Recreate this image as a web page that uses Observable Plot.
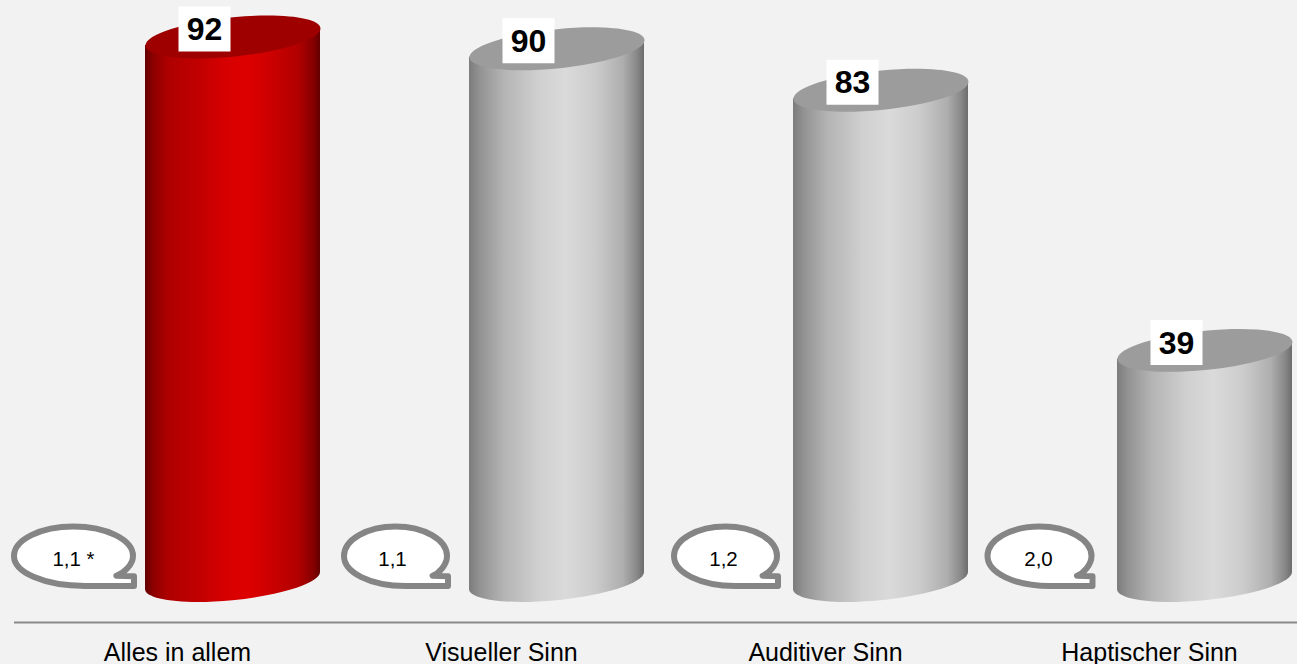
<!DOCTYPE html>
<html><head><meta charset="utf-8">
<script src="https://cdn.jsdelivr.net/npm/d3@7"></script>
<script src="https://cdn.jsdelivr.net/npm/@observablehq/plot@0.6"></script>
<style>html,body{margin:0;background:#f2f2f2;overflow:hidden}</style>
</head><body><div id="chart"></div>
<script>
const categories = ["Alles in allem", "Visueller Sinn", "Auditiver Sinn", "Haptischer Sinn"];
const values = [92, 90, 83, 39];
const grades = ["1,1 *", "1,1", "1,2", "2,0"];
const highlighted = ["Alles in allem"];

const rows = categories.map((c, i) => ({category: c, value: values[i], grade: grades[i]}));

// layout constants
const W = 1297, H = 664;
const a = 87.5, k = 8.5, b = 19.7, K = 0.5523, cylDx = 55.5;
const bubbleLayout = [{dx: -104, rx: 59.5, tx: -104}, {dx: -106, rx: 51.5, tx: -109}, {dx: -100, rx: 51.5, tx: -102}, {dx: -110, rx: 52, tx: -111}];

function sh(u, v) { return [a * u, -k * u + b * v]; }
const pts = (...p) => p.flat();

const capSymbol = {draw(c) {
  c.moveTo(...sh(1, 0));
  c.bezierCurveTo(...pts(sh(1, K), sh(K, 1), sh(0, 1)));
  c.bezierCurveTo(...pts(sh(-K, 1), sh(-1, K), sh(-1, 0)));
  c.bezierCurveTo(...pts(sh(-1, -K), sh(-K, -1), sh(0, -1)));
  c.bezierCurveTo(...pts(sh(K, -1), sh(1, -K), sh(1, 0)));
  c.closePath();
}};
const labelBox = {draw(c) { c.moveTo(-26, -22.5); c.lineTo(26, -22.5); c.lineTo(26, 22.5); c.lineTo(-26, 22.5); c.closePath(); }};
function bubble(rx) {
  const ry = 29.5, q = K;
  return {draw(c) {
    const xe = rx * 0.72, ye = ry * 0.69;
    c.moveTo(rx, 0);
    c.bezierCurveTo(rx, ry * 0.3, xe + rx * 0.12, ye - ry * 0.1, xe, ye - ry * 0.02);
    c.lineTo(rx + 1, ye);
    c.lineTo(rx + 1, ry + 0.5);
    c.lineTo(rx * 0.2, ry + 0.5);
    c.bezierCurveTo(-rx * 0.5, ry + 0.5, -rx, ry * q, -rx, 0);
    c.bezierCurveTo(-rx, -ry * q, -rx * q, -ry, 0, -ry);
    c.bezierCurveTo(rx * q, -ry, rx, -ry * q, rx, 0);
    c.closePath();
  }};
}

function defs() {
  const s = d3.create("svg:defs");
  const mk = (id, stops) => {
    const g = s.append("linearGradient").attr("id", id).attr("x1", 0).attr("x2", 1).attr("y1", 0).attr("y2", 0);
    stops.forEach(([o, col]) => g.append("stop").attr("offset", o).attr("stop-color", col));
  };
  mk("cylRed", [[0, "#640000"], [0.05, "#8e0000"], [0.13, "#ae0000"], [0.3, "#c00000"], [0.45, "#d60000"], [0.58, "#de0000"], [0.72, "#cc0000"], [0.88, "#b00000"], [0.96, "#860000"], [1, "#620000"]]);
  mk("cylGray", [[0, "#7c7c7c"], [0.06, "#929292"], [0.2, "#b4b4b4"], [0.4, "#d0d0d0"], [0.55, "#dadada"], [0.72, "#cccccc"], [0.88, "#aeaeae"], [0.96, "#888888"], [1, "#6c6c6c"]]);
  return s.node();
}

function cylinderBody(index, scales, vals, dims, ctx, next) {
  const g = next(index, scales, vals, dims, ctx);
  d3.select(g).selectAll("rect").each(function () {
    const r = d3.select(this);
    const x = +r.attr("x"), y = +r.attr("y"), w = +r.attr("width"), h = +r.attr("height");
    const cx = x + w / 2, cy = y + h;
    const P = (u, v) => [cx + a * u, cy - k * u + b * v];
    const d = d3.path();
    d.moveTo(x, y + k);
    d.lineTo(...P(-1, 0));
    d.bezierCurveTo(...pts(P(-1, K), P(-K, 1), P(0, 1)));
    d.bezierCurveTo(...pts(P(K, 1), P(1, K), P(1, 0)));
    d.lineTo(x + w, y - k);
    d.closePath();
    const p = d3.create("svg:path").attr("d", d.toString()).attr("fill", r.attr("fill"));
    this.replaceWith(p.node());
  });
  return g;
}

const isHi = d => highlighted.includes(d.category);

const chart = Plot.plot({
  width: W, height: H,
  marginTop: 0, marginLeft: 0, marginRight: 0, marginBottom: 30,
  style: {background: "#f2f2f2", fontFamily: "'Liberation Sans', Arial, sans-serif", overflow: "visible"},
  x: {domain: categories, type: "band", range: [15, 1311], padding: 0, label: null},
  y: {domain: [0, 92], range: [580.5, 36.5], axis: null, label: null},
  color: {type: "identity"},
  marks: [
    defs,
    Plot.ruleY([0], {dy: 41.5, stroke: "#8a8a8a", strokeWidth: 2, insetLeft: 14}),
    Plot.axisX({tickSize: 0, tickPadding: 9, fontSize: 25, color: "#000", label: null}),
    Plot.barY(rows, {x: "category", y: "value", fill: d => isHi(d) ? "url(#cylRed)" : "url(#cylGray)", insetLeft: 130, insetRight: 19, render: cylinderBody}),
    Plot.dot(rows, {x: "category", y: "value", dx: cylDx, symbol: capSymbol, r: 10, fill: d => isHi(d) ? "#9e0000" : "#9c9c9c", stroke: "none"}),
    Plot.dot(rows, {x: "category", y: "value", dx: cylDx - 28.5, dy: -8, symbol: labelBox, r: 10, fill: "#fff", stroke: "none"}),
    Plot.text(rows, {x: "category", y: "value", text: d => String(d.value), dx: cylDx - 28.5, dy: -7, fontSize: 32, fontWeight: "bold", fill: "#000"}),
    ...rows.map((d, i) => Plot.dot([d], {x: "category", y: () => 0, dx: bubbleLayout[i].dx, dy: -25, symbol: bubble(bubbleLayout[i].rx), r: 10, fill: "#fff", stroke: "#858585", strokeWidth: 6, strokeLinejoin: "round"})),
    ...rows.map((d, i) => Plot.text([d], {x: "category", y: () => 0, text: "grade", dx: bubbleLayout[i].tx, dy: -22, fontSize: 20.5, fill: "#000"}))
  ]
});
document.getElementById("chart").appendChild(chart);
</script></body></html>
